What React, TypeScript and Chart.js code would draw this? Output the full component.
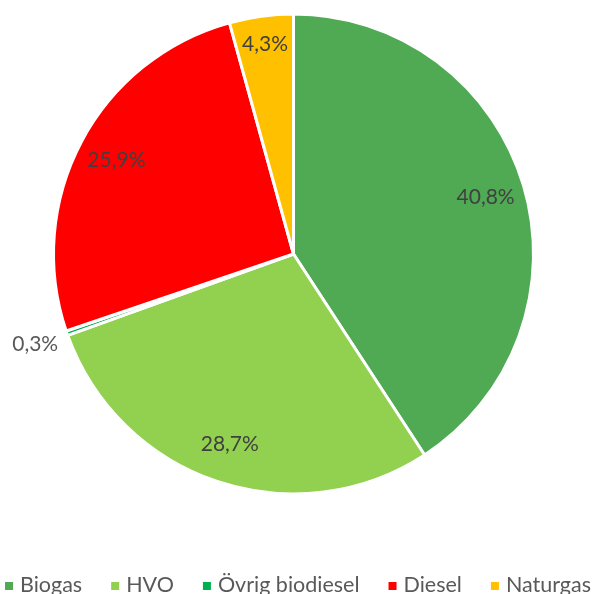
import React, { useEffect, useRef } from "react";
import { Chart, registerables } from "chart.js";

Chart.register(...registerables);

const categories = ["Biogas", "HVO", "Övrig biodiesel", "Diesel", "Naturgas"];
const shares = [40.8, 28.7, 0.3, 25.9, 4.3];
const labels = ["40,8%", "28,7%", "0,3%", "25,9%", "4,3%"];
const colors = ["#4FAA53", "#92D050", "#00B050", "#FF0000", "#FFC000"];

const FONT = "Lato, 'Open Sans', sans-serif";

const labelPlugin = {
  id: "sliceLabels",
  afterDatasetsDraw(chart: any) {
    const ctx = chart.ctx;
    const meta = chart.getDatasetMeta(0);
    ctx.save();
    ctx.font = `21px ${FONT}`;
    ctx.textAlign = "center";
    ctx.textBaseline = "middle";
    meta.data.forEach((arc: any, i: number) => {
      const { x, y, startAngle, endAngle, outerRadius } = arc.getProps(
        ["x", "y", "startAngle", "endAngle", "outerRadius"],
        true
      );
      const mid = (startAngle + endAngle) / 2;
      const small = shares[i] < 1;
      const r = small ? outerRadius * 1.14 : outerRadius * (shares[i] < 10 ? 0.88 : 0.835);
      ctx.fillStyle = small ? "#595959" : "#404040";
      ctx.fillText(labels[i], x + Math.cos(mid) * r, y + Math.sin(mid) * r);
    });
    ctx.restore();
  },
};

const legendPlugin = {
  id: "bottomLegend",
  afterDraw(chart: any) {
    const ctx = chart.ctx;
    ctx.save();
    ctx.font = `21.5px ${FONT}`;
    ctx.textBaseline = "alphabetic";
    const box = 8;
    const gapBox = 7;
    const gapItem = 29;
    const widths = categories.map((c) => ctx.measureText(c).width);
    const total =
      widths.reduce((a, w) => a + box + gapBox + w, 0) + gapItem * (categories.length - 1);
    let x = (chart.width - total) / 2;
    const y = 592;
    categories.forEach((c, i) => {
      ctx.fillStyle = colors[i];
      ctx.fillRect(x, 582, box, box);
      x += box + gapBox;
      ctx.fillStyle = "#595959";
      ctx.textAlign = "left";
      ctx.fillText(c, x, y);
      x += widths[i] + gapItem;
    });
    ctx.restore();
  },
};

export default function App() {
  const ref = useRef<HTMLCanvasElement>(null);
  useEffect(() => {
    if (!ref.current) return;
    const chart = new Chart(ref.current, {
      type: "pie",
      data: {
        labels: categories,
        datasets: [
          {
            data: shares,
            backgroundColor: colors,
            borderColor: "#FFFFFF",
            borderWidth: 3,
          },
        ],
      },
      options: {
        animation: false,
        responsive: false,
        maintainAspectRatio: false,
        layout: { padding: { left: 52, right: 61, top: 12, bottom: 98 } },
        plugins: {
          legend: { display: false },
          tooltip: { enabled: false },
        },
      },
      plugins: [labelPlugin, legendPlugin],
    });
    return () => chart.destroy();
  }, []);
  return (
    <div style={{ position: "absolute", left: 0, top: 0, width: 596, height: 594, background: "#fff" }}>
      <canvas ref={ref} width={596} height={594} style={{ width: 596, height: 594 }} />
    </div>
  );
}
